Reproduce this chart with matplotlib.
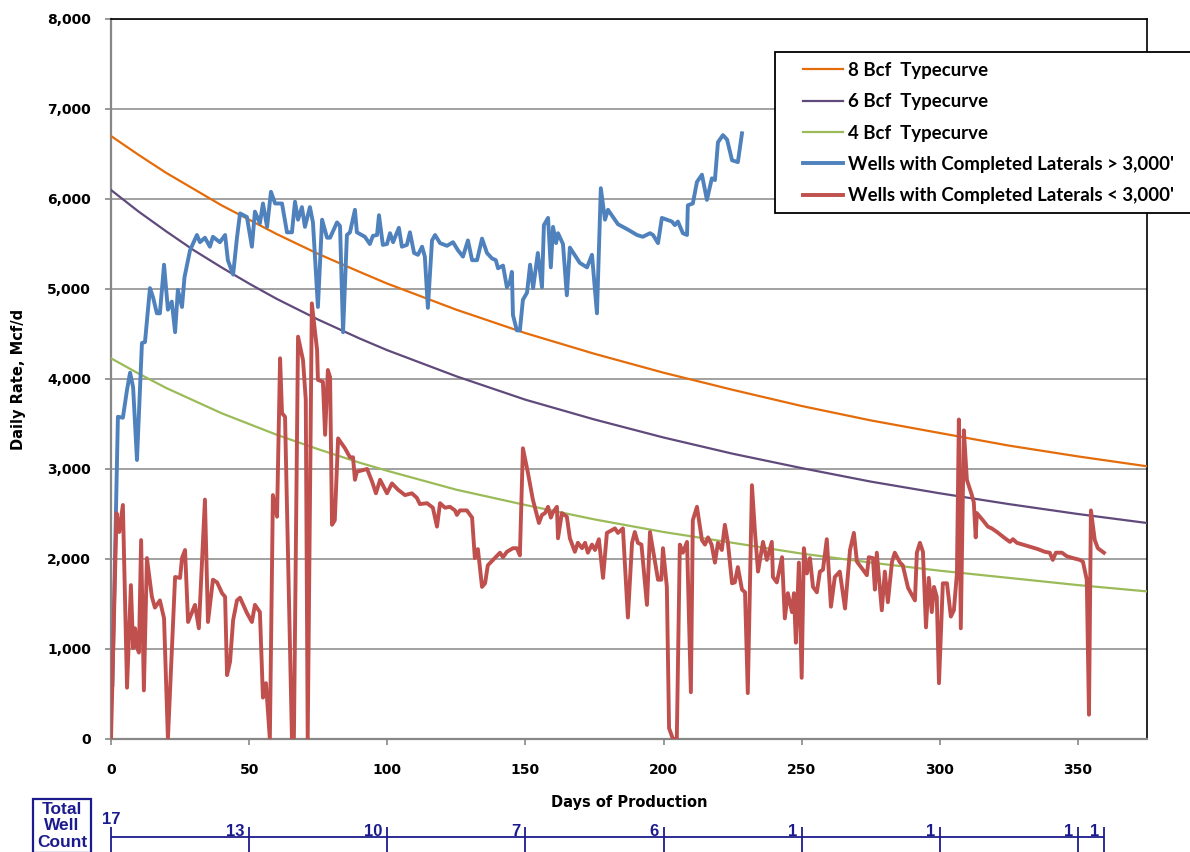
import matplotlib
matplotlib.use("Agg")
import matplotlib.pyplot as plt
from matplotlib.patches import Rectangle
from matplotlib.ticker import FuncFormatter, MultipleLocator

# Typecurves
tc_days = [0, 10, 20, 30, 40, 50, 60, 75, 90, 100, 125, 150, 175, 200, 225, 250, 275, 300, 325, 350, 375]
tc_8bcf = [6700, 6490, 6290, 6110, 5930, 5770, 5610, 5390, 5190, 5060, 4770, 4510, 4280, 4070,
           3880, 3700, 3540, 3400, 3260, 3140, 3030]
tc_6bcf = [6100, 5860, 5640, 5430, 5240, 5060, 4890, 4660, 4450, 4320, 4030, 3770, 3550, 3350,
           3170, 3010, 2860, 2730, 2610, 2500, 2400]
tc_4bcf = [4230, 4060, 3900, 3760, 3620, 3500, 3380, 3220, 3070, 2980, 2770, 2600, 2440, 2300,
           2180, 2060, 1960, 1870, 1790, 1710, 1640]

# Wells with completed laterals > 3,000' (day, Mcf/d)
long_wells = [
    (0.5, 600), (2.5, 3580), (4.3, 3570), (5.8, 3880), (6.9, 4070), (8.0, 3910), (9.4, 3100),
    (11.2, 4400), (12.3, 4410), (14.1, 5010), (15.2, 4910), (16.6, 4730), (17.7, 4730),
    (19.2, 5270), (20.6, 4770), (22.0, 4860), (23.2, 4520), (24.2, 4990), (25.7, 4800),
    (26.6, 5130), (28.6, 5430), (31.1, 5600), (32.2, 5520), (34.0, 5570), (35.8, 5470),
    (36.9, 5580), (39.4, 5520), (41.3, 5600), (42.3, 5320), (44.2, 5160), (45.6, 5570),
    (46.7, 5840), (49.2, 5800), (51.0, 5470), (52.1, 5860), (53.9, 5730), (55.0, 5950),
    (56.5, 5690), (57.9, 6080), (59.4, 5950), (61.9, 5950), (63.7, 5630), (65.5, 5630),
    (66.6, 5970), (67.7, 5770), (69.1, 5910), (70.2, 5690), (72.0, 5910), (73.1, 5740),
    (74.9, 4800), (76.4, 5770), (78.2, 5570), (79.3, 5570), (81.8, 5740), (82.9, 5700),
    (84.0, 4520), (85.4, 5600), (86.5, 5630), (88.3, 5880), (89.0, 5630), (91.9, 5580),
    (93.7, 5500), (94.8, 5590), (96.3, 5600), (97.0, 5820), (98.4, 5490), (99.9, 5500),
    (101.0, 5620), (102.1, 5520), (104.2, 5680), (105.3, 5470), (107.1, 5490), (108.2, 5630),
    (109.7, 5400), (111.1, 5380), (112.6, 5470), (113.6, 5360), (114.7, 4790), (116.2, 5540),
    (117.3, 5600), (119.1, 5510), (121.6, 5480), (123.8, 5520), (125.6, 5430), (127.4, 5360),
    (129.2, 5540), (130.7, 5320), (132.5, 5320), (134.3, 5560), (136.1, 5400), (137.9, 5340),
    (139.3, 5320), (140.1, 5230), (141.9, 5260), (143.3, 5020), (144.4, 5080), (145.1, 5190),
    (145.5, 4710), (146.9, 4540), (148.0, 4540), (149.1, 4880), (150.6, 4960), (151.7, 5270),
    (152.8, 5010), (154.5, 5400), (156.0, 5020), (156.7, 5710), (158.2, 5790), (159.2, 5240),
    (160.0, 5690), (161.1, 5510), (161.8, 5620), (163.6, 5500), (165.0, 4930), (166.1, 5460),
    (169.7, 5290), (172.3, 5240), (174.1, 5380), (175.9, 4730), (177.3, 6120), (178.8, 5770),
    (179.9, 5880), (183.5, 5720), (187.1, 5660), (190.4, 5600), (192.5, 5580), (195.1, 5620),
    (196.2, 5600), (198.0, 5510), (199.4, 5790), (201.2, 5770), (203.0, 5750), (204.1, 5710),
    (205.2, 5750), (207.0, 5620), (208.5, 5600), (208.8, 5930), (210.6, 5950), (212.1, 6190),
    (213.9, 6270), (215.7, 5990), (217.5, 6230), (218.6, 6210), (219.7, 6630), (221.5, 6710),
    (223.0, 6660), (224.8, 6430), (226.9, 6410), (228.4, 6730),
]

# Wells with completed laterals < 3,000' (day, Mcf/d)
short_wells = [
    (0, 0), (2.0, 2510), (3.0, 2300), (4.3, 2600), (5.8, 570), (7.2, 1710), (8.0, 1010),
    (8.7, 1230), (9.4, 1020), (10.1, 960), (10.9, 2210), (11.9, 540), (13.0, 2010),
    (14.8, 1580), (15.9, 1460), (17.7, 1540), (19.2, 1340), (20.6, 0), (23.2, 1800),
    (25.0, 1790), (25.7, 2010), (26.8, 2100), (27.9, 1300), (30.4, 1490), (31.8, 1230),
    (34.0, 2660), (35.1, 1300), (36.9, 1770), (38.4, 1740), (40.2, 1620), (41.3, 1580),
    (42.0, 710), (43.1, 860), (44.2, 1320), (45.6, 1540), (46.7, 1570), (49.2, 1400),
    (51.0, 1300), (52.1, 1490), (53.9, 1410), (55.0, 460), (56.1, 620), (57.5, 0),
    (58.6, 2710), (60.1, 2470), (61.2, 4230), (61.9, 3620), (63.0, 3580), (65.5, 0),
    (66.2, 0), (67.7, 4470), (69.5, 4210), (70.5, 3770), (71.2, 0), (72.7, 4840),
    (74.6, 4320), (74.9, 3990), (76.7, 3970), (77.5, 3380), (78.5, 4100), (79.3, 4020),
    (80.0, 2380), (81.0, 2430), (82.2, 3340), (84.7, 3230), (86.5, 3130), (87.6, 3130),
    (88.3, 2880), (89.0, 2970), (92.7, 3000), (94.5, 2860), (95.9, 2730), (97.4, 2880),
    (99.9, 2730), (101.7, 2840), (103.9, 2770), (106.4, 2710), (108.9, 2730), (110.7, 2680),
    (111.8, 2610), (114.4, 2620), (116.5, 2570), (118.0, 2360), (119.1, 2620), (120.9, 2570),
    (122.7, 2580), (124.5, 2540), (125.2, 2490), (126.3, 2540), (128.8, 2540), (130.7, 2460),
    (131.7, 2010), (132.8, 2110), (134.3, 1690), (135.4, 1730), (136.4, 1930), (138.3, 1990),
    (140.8, 2070), (141.9, 2020), (143.3, 2080), (145.5, 2120), (146.9, 2120), (148.0, 2040),
    (149.1, 3230), (150.9, 2960), (152.7, 2660), (154.9, 2400), (156.0, 2490), (157.1, 2510),
    (158.2, 2580), (159.2, 2460), (160.0, 2520), (161.4, 2580), (161.8, 2230), (163.2, 2510),
    (165.0, 2470), (166.1, 2230), (167.9, 2080), (169.0, 2180), (170.5, 2120), (171.6, 2180),
    (172.6, 2070), (174.1, 2160), (175.2, 2100), (176.6, 2220), (178.1, 1790), (179.5, 2290),
    (181.3, 2320), (182.4, 2340), (183.5, 2290), (185.3, 2340), (187.1, 1350), (188.6, 2180),
    (189.6, 2300), (190.7, 2180), (192.0, 2160), (194.0, 1490), (195.1, 2300), (198.0, 1770),
    (199.2, 1770), (199.8, 2120), (201.2, 1690), (202.0, 120), (203.4, 0), (204.8, 0),
    (205.9, 2160), (207.0, 2070), (208.5, 2190), (209.9, 520), (210.6, 2430), (212.1, 2580),
    (213.9, 2210), (215.0, 2160), (216.1, 2240), (217.4, 2160), (218.6, 1960), (219.7, 2180),
    (221.1, 2100), (222.2, 2380), (223.3, 2180), (224.8, 1730), (225.8, 1740), (226.9, 1910),
    (228.4, 1660), (229.5, 1630), (230.5, 510), (232.0, 2820), (233.1, 2300), (234.2, 1860),
    (236.0, 2190), (237.4, 1990), (239.2, 2190), (239.6, 1800), (241.0, 1740), (242.9, 2020),
    (243.9, 1340), (245.0, 1620), (246.5, 1410), (247.2, 1620), (247.9, 1070), (249.0, 1960),
    (250.0, 680), (250.8, 2120), (251.9, 1840), (253.0, 2010), (254.1, 1690), (255.5, 1630),
    (256.6, 1860), (257.7, 1880), (259.1, 2220), (260.6, 1470), (262.0, 1800), (263.8, 1860),
    (265.7, 1450), (267.5, 2100), (268.9, 2290), (270.0, 1970), (272.2, 1880), (273.6, 1820),
    (274.3, 2020), (275.8, 2010), (276.5, 1660), (277.2, 2070), (279.0, 1430), (280.1, 1860),
    (281.2, 1520), (282.7, 1970), (283.7, 2070), (285.6, 1960), (286.6, 1930), (288.5, 1680),
    (291.0, 1540), (291.7, 2070), (292.8, 2180), (293.9, 2080), (295.0, 1240), (296.0, 1790),
    (297.1, 1410), (297.9, 1690), (298.9, 1580), (299.7, 620), (301.1, 1730), (302.6, 1730),
    (304.0, 1360), (305.1, 1430), (306.2, 1840), (306.9, 3550), (307.6, 1230), (308.7, 3430),
    (309.8, 2880), (311.6, 2710), (312.3, 2630), (313.0, 2240), (313.4, 2510), (315.6, 2430),
    (317.4, 2360), (318.8, 2340), (320.7, 2300), (323.6, 2230), (325.4, 2190), (326.5, 2220),
    (327.9, 2180), (330.1, 2160), (333.3, 2130), (335.5, 2110), (338.0, 2080), (339.8, 2070),
    (340.9, 1990), (342.0, 2070), (344.2, 2070), (346.0, 2030), (348.2, 2010), (350.7, 1990),
    (351.8, 1970), (353.2, 1770), (354.0, 270), (354.7, 2540), (356.1, 2210), (357.2, 2120),
    (359.4, 2070),
]

# Total well count along the day axis
count_days = [0, 50, 100, 150, 200, 250, 300, 350, 359.4]
well_counts = [17, 13, 10, 7, 6, 1, 1, 1, 1]

NAVY = "#1B1B8E"
GRID = "#878787"

fig = plt.figure(figsize=(11.9, 8.52), dpi=100)
ax = fig.add_axes([111 / 1190, 1 - 739 / 852, 1036 / 1190, 720 / 852])

h8, = ax.plot(tc_days, tc_8bcf, color="#E46C0A", lw=1.6, zorder=3)
h6, = ax.plot(tc_days, tc_6bcf, color="#604A7B", lw=1.6, zorder=3)
h4, = ax.plot(tc_days, tc_4bcf, color="#9BBB59", lw=1.6, zorder=3)

ld, lr = zip(*long_wells)
sd, sr = zip(*short_wells)
hl, = ax.plot(ld, lr, color="#4F81BD", lw=2.8, solid_joinstyle="round", zorder=4)
hs, = ax.plot(sd, sr, color="#C0504D", lw=2.8, solid_joinstyle="round", zorder=5)

ax.set_xlim(0, 375)
ax.set_ylim(0, 8000)
ax.set_xticks(range(0, 351, 50))
ax.yaxis.set_major_locator(MultipleLocator(1000))
ax.yaxis.set_major_formatter(FuncFormatter(lambda v, p: f"{int(v):,}"))
ax.grid(axis="y", color=GRID, lw=1.1, zorder=1)
ax.set_axisbelow(True)

for s in ["left", "bottom"]:
    ax.spines[s].set_color(GRID)
    ax.spines[s].set_linewidth(1.6)
for s in ["top", "right"]:
    ax.spines[s].set_color("black")
    ax.spines[s].set_linewidth(1.2)

ax.tick_params(axis="both", direction="out", length=4.5, width=1.2, color=GRID)
ax.tick_params(axis="x", pad=13)
ax.tick_params(axis="y", pad=10)
for lab in ax.get_xticklabels() + ax.get_yticklabels():
    lab.set_fontweight("bold")
    lab.set_fontsize(10)
    lab.set_family("DejaVu Sans")

ax.set_ylabel("Daily Rate, Mcf/d", fontsize=10.5, fontweight="bold")
ax.yaxis.set_label_coords(-0.082, 0.5)
fig.text(629 / 1190, 1 - 803 / 852, "Days of Production", ha="center", va="center",
         fontsize=10.5, fontweight="bold")

# legend box runs off the right edge of the figure
fig.add_artist(Rectangle((775 / 1190, 1 - 213 / 852), 440 / 1190, 161 / 852,
                         transform=fig.transFigure, fc="white", ec="black", lw=1.3,
                         zorder=2, clip_on=False))
fig.legend([h8, h6, h4, hl, hs],
           ["8 Bcf  Typecurve", "6 Bcf  Typecurve", "4 Bcf  Typecurve",
            "Wells with Completed Laterals > 3,000'", "Wells with Completed Laterals < 3,000'"],
           loc="upper left", bbox_to_anchor=(803 / 1190, 1 - 62 / 852),
           bbox_transform=fig.transFigure, borderaxespad=0, borderpad=0, frameon=False,
           labelspacing=0.77, handlelength=2.15, handletextpad=0.27,
           prop={"family": ["Lato", "DejaVu Sans"], "weight": "bold", "size": 13.4})

# Total well count strip under the chart
wc = fig.add_axes([111 / 1190, 0, 1036 / 1190, 26 / 852])
wc.set_xlim(0, 375)
wc.set_ylim(0, 26)
wc.axis("off")
wc.hlines(15, count_days[0], count_days[-1], color=NAVY, lw=1.3, clip_on=False)
wc.vlines(count_days, 0, 25, color=NAVY, lw=1.3, clip_on=False)
cfont = {"family": ["Liberation Sans", "DejaVu Sans"], "weight": "bold", "size": 12, "color": NAVY}
for i, (d, c) in enumerate(zip(count_days, well_counts)):
    if i == 0:
        wc.text(d, 28, str(c), ha="center", va="baseline", clip_on=False, **cfont)
    else:
        wc.annotate(str(c), xy=(d, 16), xytext=(-3.5, 0), textcoords="offset points",
                    ha="right", va="baseline", annotation_clip=False, **cfont)

fig.text(62 / 1190, 1 - 826 / 852, "Total\nWell\nCount", ha="center", va="center",
         linespacing=1.1, fontsize=12.5, fontweight="bold", color=NAVY,
         family=["Liberation Sans", "DejaVu Sans"],
         bbox=dict(boxstyle="square,pad=0.2", fc="white", ec=NAVY, lw=1.6))

fig.savefig("out.png", dpi=100)
